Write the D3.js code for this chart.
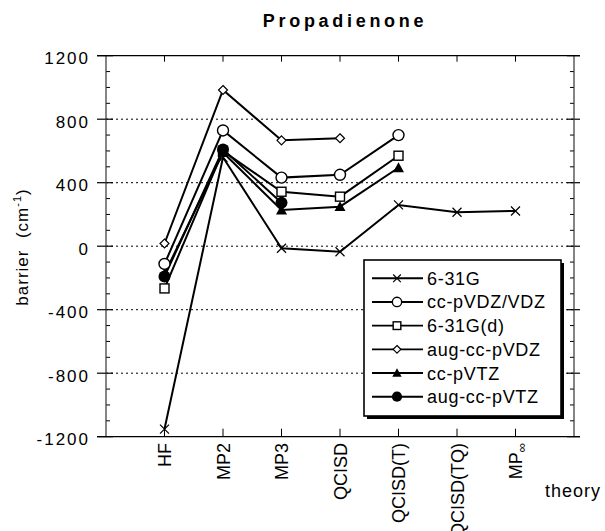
<!DOCTYPE html>
<html><head><meta charset="utf-8">
<script src="https://cdn.jsdelivr.net/npm/d3@7"></script>
<style>
html,body{margin:0;padding:0;background:#fff;}
text{font-family:"Liberation Sans",Arial,Helvetica,sans-serif;fill:#000;}
</style></head>
<body><svg id="c" width="605" height="531"></svg>
<script>
const categories = ["HF","MP2","MP3","QCISD","QCISD(T)","QCISD(TQ)","MP"];
const seriesNames = ["6-31G","cc-pVDZ/VDZ","6-31G(d)","aug-cc-pVDZ","cc-pVTZ","aug-cc-pVTZ"];
const s631G   = [-1152, 560, -13, -35, 260, 214, 222];
const sVDZ    = [-112, 729, 432, 450, 700, null, null];
const s631Gd  = [-266, 600, 343, 312, 570, null, null];
const sAugVDZ = [17, 984, 667, 680, null, null, null];
const sVTZ    = [-175, 590, 228, 249, 494, null, null];
const sAugVTZ = [-191, 609, 274, null, null, null, null];
const yTicks = [-1200, -800, -400, 0, 400, 800, 1200];
const gridValues = [-800, -400, 0, 400, 800];
const markerTypes = ["x","circle","square","diamond","triangle","dot"];

const series = [s631G, sVDZ, s631Gd, sAugVDZ, sVTZ, sAugVTZ];

const svg = d3.select("#c");
const x = d3.scaleLinear().domain([0, 8]).range([106, 574]);
const y = d3.scaleLinear().domain([-1200, 1200]).range([436.7, 55.7]);
const X0 = x(0), X1 = x(8), Y0 = y(-1200), Y1 = y(1200);

// title
svg.append("text").attr("x", 345).attr("y", 27).attr("text-anchor", "middle")
  .style("font-size", "18px").style("font-weight", "bold").style("letter-spacing", "3.7px")
  .text("Propadienone");

// gridlines (dotted)
svg.selectAll(".grid").data(gridValues).enter().append("line")
  .attr("x1", X0).attr("x2", X1).attr("y1", d => y(d)).attr("y2", d => y(d))
  .attr("stroke", "#000").attr("stroke-width", 1).attr("stroke-dasharray", "2,3");

// minor ticks every 100
const minor = d3.range(-1100, 1200, 100).filter(v => v % 400 !== 0);
svg.selectAll(".mnl").data(minor).enter().append("line")
  .attr("x1", X0).attr("x2", X0 + 4).attr("y1", d => y(d)).attr("y2", d => y(d))
  .attr("stroke", "#000").attr("stroke-width", 1);
svg.selectAll(".mnr").data(minor).enter().append("line")
  .attr("x1", X1 - 4).attr("x2", X1).attr("y1", d => y(d)).attr("y2", d => y(d))
  .attr("stroke", "#000").attr("stroke-width", 1);

// major ticks
svg.selectAll(".mjl").data(yTicks).enter().append("line")
  .attr("x1", X0 - 9).attr("x2", X0 + 7).attr("y1", d => y(d)).attr("y2", d => y(d))
  .attr("stroke", "#000").attr("stroke-width", 1.2);
svg.selectAll(".mjr").data(yTicks).enter().append("line")
  .attr("x1", X1 - 7).attr("x2", X1 + 6).attr("y1", d => y(d)).attr("y2", d => y(d))
  .attr("stroke", "#000").attr("stroke-width", 1.2);

// frame
svg.append("line").attr("x1", X0).attr("x2", X0).attr("y1", Y1).attr("y2", Y0).attr("stroke", "#333").attr("stroke-width", 1.2);
svg.append("line").attr("x1", X1).attr("x2", X1).attr("y1", Y1).attr("y2", Y0).attr("stroke", "#333").attr("stroke-width", 1.2);
svg.append("line").attr("x1", X0 - 9).attr("x2", X1 + 6).attr("y1", Y1).attr("y2", Y1).attr("stroke", "#000").attr("stroke-width", 1.2);
svg.append("line").attr("x1", X0 - 9).attr("x2", X1 + 6).attr("y1", Y0).attr("y2", Y0).attr("stroke", "#000").attr("stroke-width", 1.3);

// category ticks top & bottom
const catIdx = categories.map((c, i) => i + 1);
svg.selectAll(".tt").data(catIdx).enter().append("line")
  .attr("x1", d => x(d)).attr("x2", d => x(d)).attr("y1", Y1).attr("y2", Y1 + 6)
  .attr("stroke", "#000").attr("stroke-width", 1);
svg.selectAll(".bt").data(catIdx).enter().append("line")
  .attr("x1", d => x(d)).attr("x2", d => x(d)).attr("y1", Y0).attr("y2", Y0 - 8)
  .attr("stroke", "#000").attr("stroke-width", 1);

// y tick labels
svg.selectAll(".yl").data(yTicks).enter().append("text")
  .attr("x", 90).attr("y", d => y(d) + 8.5).attr("text-anchor", "end")
  .style("font-size", "17px").style("letter-spacing", "2px")
  .text(d => d);

// x tick labels
const xl = svg.selectAll(".xl").data(categories).enter().append("text")
  .attr("transform", (d, i) => `translate(${x(i + 1) + 6.5},443) rotate(-90)`)
  .attr("text-anchor", "end")
  .style("font-size", "18px");
xl.append("tspan").text(d => d);
xl.filter((d, i) => i === 6).append("tspan").attr("dy", 4).style("font-size", "13px").text("\u221e");

// axis titles
svg.append("text").attr("x", 545).attr("y", 497).style("font-size", "18px").style("letter-spacing", "1px").text("theory");
const yt = svg.append("text").attr("transform", "translate(28,247) rotate(-90)").attr("text-anchor", "middle")
  .style("font-size", "17px").style("letter-spacing", "1px");
yt.append("tspan").text("barrier\u00a0\u00a0(cm");
yt.append("tspan").attr("dy", -7).style("font-size", "11px").text("-1");
yt.append("tspan").attr("dy", 7).text(")");

// series lines
const line = d3.line().defined(d => d[1] !== null).x(d => x(d[0])).y(d => y(d[1]));
series.forEach(s => {
  const pts = s.map((v, i) => [i + 1, v]);
  svg.append("path").attr("d", line(pts)).attr("fill", "none").attr("stroke", "#000").attr("stroke-width", 2);
});

function marker(g, type, cx, cy, sc) {
  sc = sc || 1;
  if (type === "x") {
    const h = 4.5 * sc;
    g.append("path").attr("d", `M${cx - h},${cy - h}L${cx + h},${cy + h}M${cx - h},${cy + h}L${cx + h},${cy - h}`)
      .attr("stroke", "#000").attr("stroke-width", 1.2);
  } else if (type === "circle") {
    g.append("circle").attr("cx", cx).attr("cy", cy).attr("r", 5.5 * sc).attr("fill", "#fff").attr("stroke", "#000").attr("stroke-width", 1.4);
  } else if (type === "square") {
    const h = 4.5 * sc;
    g.append("rect").attr("x", cx - h).attr("y", cy - h).attr("width", 2 * h).attr("height", 2 * h).attr("fill", "#fff").attr("stroke", "#000").attr("stroke-width", 1.4);
  } else if (type === "diamond") {
    const h = 4.5 * sc;
    g.append("path").attr("d", `M${cx},${cy - h}L${cx + h},${cy}L${cx},${cy + h}L${cx - h},${cy}Z`).attr("fill", "#fff").attr("stroke", "#000").attr("stroke-width", 1.2);
  } else if (type === "triangle") {
    const h = 5.5 * sc;
    g.append("path").attr("d", `M${cx},${cy - h}L${cx + h},${cy + h * 0.8}L${cx - h},${cy + h * 0.8}Z`).attr("fill", "#000");
  } else if (type === "dot") {
    g.append("circle").attr("cx", cx).attr("cy", cy).attr("r", 6 * sc).attr("fill", "#000");
  }
}

const mg = svg.append("g");
series.forEach((s, k) => {
  s.forEach((v, i) => { if (v !== null) marker(mg, markerTypes[k], x(i + 1), y(v)); });
});

// legend
const lg = svg.append("g");
lg.append("rect").attr("x", 367).attr("y", 263).attr("width", 197).attr("height", 156).attr("fill", "#000");
lg.append("rect").attr("x", 364).attr("y", 260).attr("width", 197).attr("height", 156).attr("fill", "#fff").attr("stroke", "#000").attr("stroke-width", 1.6);
const rowY = d3.scaleLinear().domain([0, 5]).range([278.3, 396.7]);
seriesNames.forEach((n, k) => {
  const ry = rowY(k);
  lg.append("line").attr("x1", 372).attr("x2", 423).attr("y1", ry).attr("y2", ry).attr("stroke", "#000").attr("stroke-width", 1.9);
  marker(lg, markerTypes[k], 397, ry, 0.85);
  lg.append("text").attr("x", 427).attr("y", ry + 6.5).style("font-size", "18px").style("letter-spacing", "0.7px").text(n);
});
</script></body></html>
